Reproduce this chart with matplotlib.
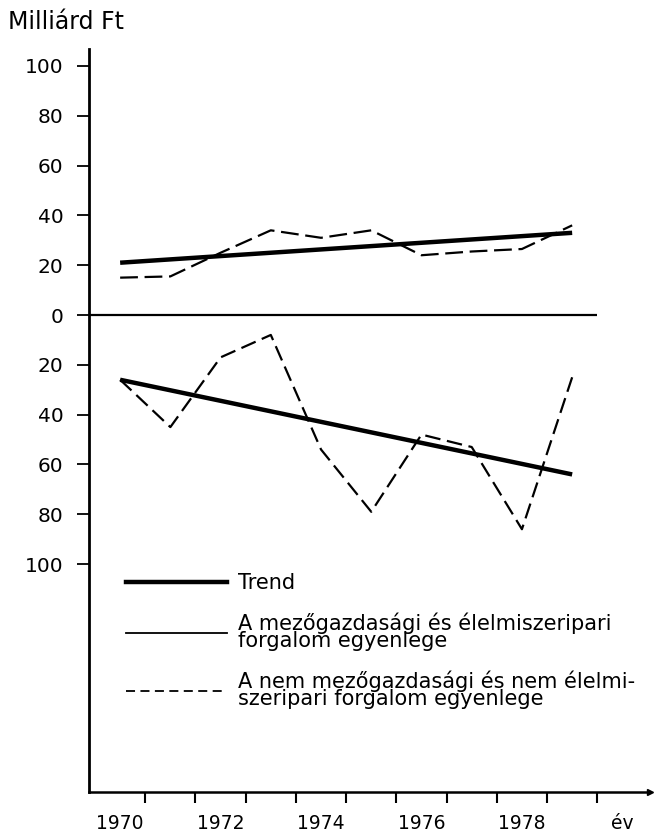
import matplotlib
matplotlib.use("Agg")
import matplotlib.pyplot as plt
from matplotlib.lines import Line2D

plt.rcParams['font.family'] = ['DejaVu Sans']

# Data (Milliárd Ft)
years = [1970, 1971, 1972, 1973, 1974, 1975, 1976, 1977, 1978, 1979]
agri_balance = [15, 15.5, 25, 34, 31, 34, 24, 25.5, 26.5, 36]
nonagri_balance = [-26, -45, -17, -8, -54, -79, -48, -53, -86, -25]

trend_years = [1970, 1979]
agri_trend = [21, 33]
nonagri_trend = [-26, -64]

ytick_values = [100, 80, 60, 40, 20, 0, -20, -40, -60, -80, -100]
ytick_labels = [str(abs(v)) for v in ytick_values]
xtick_marks = [1970.5, 1971.5, 1972.5, 1973.5, 1974.5, 1975.5, 1976.5, 1977.5, 1978.5, 1979.5]
xlabel_pos = [1970, 1972, 1974, 1976, 1978, 1980]
xlabel_text = ['1970', '1972', '1974', '1976', '1978', 'év']

legend_labels = [
    "Trend",
    "A mezőgazdasági és élelmiszeripari\nforgalom egyenlege",
    "A nem mezőgazdasági és nem élelmi-\nszeripari forgalom egyenlege",
]

W, H = 658, 832
fig = plt.figure(figsize=(W / 100, H / 100), dpi=100)
ax = fig.add_axes([89 / W, 40 / H, (650 - 89) / W, (792 - 49) / H])

ax.set_xlim(1969.38, 1980.55)
ax.set_ylim(-191.5, 106.8)

# series
ax.plot(years, agri_balance, color='black', lw=1.6, dashes=(8, 3))
ax.plot(years, nonagri_balance, color='black', lw=1.6, dashes=(7, 3))
ax.plot(trend_years, agri_trend, color='black', lw=3.2, solid_capstyle='butt')
ax.plot(trend_years, nonagri_trend, color='black', lw=3.2, solid_capstyle='butt')

# zero line
ax.hlines(0, ax.get_xlim()[0], 1979.5, color='black', lw=1.6)

# axes styling
for side in ['top', 'right']:
    ax.spines[side].set_visible(False)
ax.spines['left'].set_linewidth(2)
ax.spines['bottom'].set_linewidth(1.8)
ax.plot(1, 0, marker='>', color='black', ms=5, transform=ax.transAxes, clip_on=False)

ax.set_yticks(ytick_values)
ax.set_yticklabels(ytick_labels, fontsize=14.5)
ax.tick_params(axis='y', direction='out', length=8.5, width=1.3, pad=10)

ax.set_xticks(xtick_marks)
ax.set_xticklabels([])
ax.tick_params(axis='x', which='major', direction='out', length=8, width=1.5)
ax.set_xticks(xlabel_pos, minor=True)
ax.set_xticklabels(xlabel_text, minor=True, fontsize=13.5)
ax.tick_params(axis='x', which='minor', length=0, pad=16)

fig.text(8 / W, 1 - 22 / H, "Milliárd Ft", fontsize=17, va='center', ha='left')

# legend
handles = [
    Line2D([], [], color='black', lw=3.2),
    Line2D([], [], color='black', lw=1.3),
    Line2D([], [], color='black', lw=1.3, dashes=(5, 3)),
]
leg = ax.legend(handles, legend_labels, loc='upper left',
                bbox_to_anchor=(126 / W, 1 - 573 / H), bbox_transform=fig.transFigure,
                frameon=False, borderpad=0, borderaxespad=0, fontsize=15,
                handlelength=4.85, handletextpad=0.55, labelspacing=0.95)
for t in leg.get_texts():
    t.set_linespacing(0.8)

fig.savefig("out.png", dpi=100)
